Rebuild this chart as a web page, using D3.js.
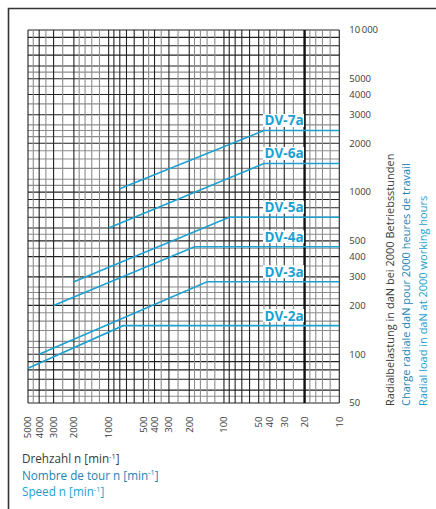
<!DOCTYPE html>
<html>
<head>
<meta charset="utf-8">
<script src="https://cdn.jsdelivr.net/npm/d3@7"></script>
<style>
  html, body { margin: 0; padding: 0; background: #fff; }
  svg { display: block; }
  text { font-family: "Open Sans", "Noto Sans", sans-serif; }
</style>
</head>
<body>
<svg id="chart" width="436" height="509"></svg>
<script>
// ---- Data ----
const seriesNames = ["DV-2a", "DV-3a", "DV-4a", "DV-5a", "DV-6a", "DV-7a"];
const startSpeed  = [5000, 4000, 3000, 2000, 1000, 800];
const startLoad   = [82, 100, 200, 280, 600, 1050];
const kneeSpeed   = [750, 140, 180, 90, 45, 45];
const plateauLoad = [150, 280, 460, 700, 1500, 2400];
const endSpeed    = 10;

const xTickValues = [5000, 4000, 3000, 2000, 1000, 500, 400, 300, 200, 100, 50, 40, 30, 20, 10];
const yTickValues = [10000, 5000, 4000, 3000, 2000, 1000, 500, 400, 300, 200, 100, 50];
const yTickLabels = ["10\u2009000", "5000", "4000", "3000", "2000", "1000", "500", "400", "300", "200", "100", "50"];

const xGridMantissa = [1, 1.2, 1.4, 1.6, 1.8, 2, 2.5, 3, 3.5, 4, 4.5, 5, 6, 7, 8, 9];
const yGridMantissa = [1, 1.1, 1.2, 1.4, 1.6, 1.8, 2, 2.2, 2.4, 2.6, 3, 3.5, 4, 4.5, 5, 5.5, 6, 7, 8, 9];

const yTitleLines = ["Radialbelastung in daN bei 2000 Betriebsstunden",
                     "Charge radiale daN pour 2000 heures de travail",
                     "Radial load in daN at 2000 working hours"];
const xTitleLines = ["Drehzahl n [min", "Nombre de tour n [min", "Speed n [min"];

// ---- Layout ----
const svg = d3.select("#chart");
const pL = 28, pR = 339.3, pT = 30, pB = 403;
const x = d3.scaleLog().domain([5000, 10]).range([pL, pR]);
const y = d3.scaleLog().domain([50, 10000]).range([pB, pT]);

const cyan = "#1ba1d2";
const midBlue = "#2483b5";
const darkText = "#3a3a3a";

// frame
svg.append("path")
  .attr("d", `M8.5,509 L8.5,8.5 L436,8.5`)
  .attr("fill", "none").attr("stroke", "#333").attr("stroke-width", 1.6);

// grid values
function gridVals(lo, hi, mant) {
  const out = [];
  for (let e = 0; e <= 5; e++) {
    mant.forEach(m => {
      const v = +(m * Math.pow(10, e)).toPrecision(6);
      if (v >= lo - 1e-9 && v <= hi + 1e-9) out.push({v, major: Number.isInteger(m)});
    });
  }
  return out;
}
const xg = gridVals(10, 5000, xGridMantissa);
const yg = gridVals(50, 10000, yGridMantissa);

const grid = svg.append("g");
grid.selectAll("line.h").data(yg).join("line")
  .attr("x1", pL).attr("x2", pR)
  .attr("y1", d => y(d.v)).attr("y2", d => y(d.v))
  .attr("stroke", d => d.major ? "#222" : "#8c8c8c")
  .attr("stroke-width", 1.1);
grid.selectAll("line.v").data(xg).join("line")
  .attr("y1", pT).attr("y2", pB)
  .attr("x1", d => x(d.v)).attr("x2", d => x(d.v))
  .attr("stroke", d => d.v === 20 ? "#111" : (d.major ? "#222" : "#8c8c8c"))
  .attr("stroke-width", d => d.v === 20 ? 2.4 : 1.1);

// series lines
const series = seriesNames.map((name, i) => ({
  name,
  pts: [[startSpeed[i], startLoad[i]], [kneeSpeed[i], plateauLoad[i]], [endSpeed, plateauLoad[i]]],
  plateau: plateauLoad[i]
}));
const line = d3.line().x(d => x(d[0])).y(d => y(d[1]));
svg.append("g").selectAll("path").data(series).join("path")
  .attr("d", d => line(d.pts))
  .attr("fill", "none").attr("stroke", cyan).attr("stroke-width", 1.6);

// series labels
const lab = svg.append("g").selectAll("g").data(series).join("g")
  .attr("transform", d => `translate(${x(20) - 0.5},${y(d.plateau) - 10})`);
lab.append("rect")
  .attr("x", -41).attr("y", -6.5).attr("width", 41).attr("height", 13)
  .attr("fill", "#fff");
lab.append("text")
  .attr("x", -0.5)
  .attr("text-anchor", "end").attr("dy", "0.36em")
  .attr("font-size", 13.5).attr("font-weight", "bold")
  .attr("fill", cyan)
  .text(d => d.name);

// x tick labels (rotated)
svg.append("g").selectAll("text").data(xTickValues).join("text")
  .attr("transform", d => `translate(${x(d)},416.5) rotate(-90)`)
  .attr("text-anchor", "end").attr("dy", "0.35em")
  .attr("font-size", 9.5).attr("fill", darkText)
  .text(d => String(d));

// y tick labels
svg.append("g").selectAll("text").data(yTickValues).join("text")
  .attr("x", 349.3).attr("y", d => y(d))
  .attr("dy", "0.35em")
  .attr("font-size", 9.5).attr("fill", darkText)
  .text((d, i) => yTickLabels[i]);

// y title (rotated, three lines)
const yTitleColors = [darkText, midBlue, cyan];
const yTitleX = [393.5, 410, 426.5];
yTitleLines.forEach((t, i) => {
  svg.append("text")
    .attr("transform", `translate(${yTitleX[i]},406) rotate(-90)`)
    .attr("font-size", 11).attr("fill", yTitleColors[i])
    .text(t);
});

// x title
const xTitleY = [463, 479.5, 496];
xTitleLines.forEach((t, i) => {
  const tx = svg.append("text")
    .attr("x", 22).attr("y", xTitleY[i])
    .attr("font-size", 11.7).attr("fill", yTitleColors[i]);
  tx.append("tspan").text(t);
  tx.append("tspan").attr("font-size", 7.5).attr("dy", -4.5).text("-1");
  tx.append("tspan").attr("dy", 4.5).text("]");
});
</script>
</body>
</html>
